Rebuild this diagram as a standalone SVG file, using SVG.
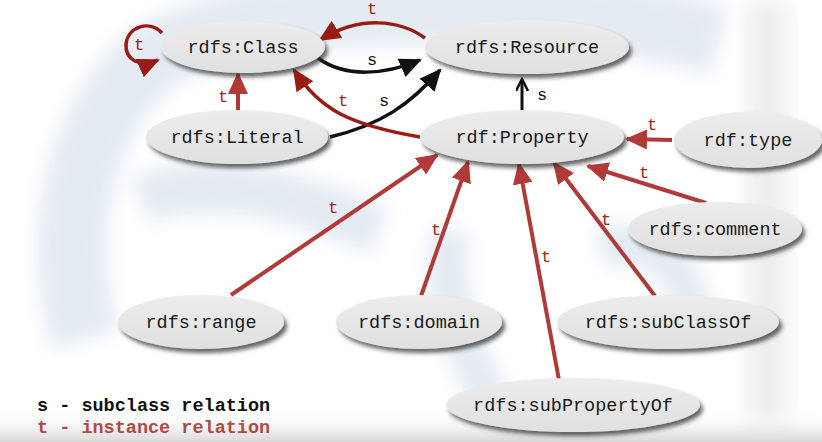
<svg xmlns="http://www.w3.org/2000/svg" width="822" height="442" viewBox="0 0 822 442">
<defs>
  <filter id="sh" x="-20%" y="-30%" width="150%" height="180%">
    <feDropShadow dx="3" dy="4" stdDeviation="2" flood-color="#333" flood-opacity="0.75"/>
  </filter>
  <filter id="blur" x="-20%" y="-20%" width="140%" height="140%">
    <feGaussianBlur stdDeviation="10"/>
  </filter>
  <linearGradient id="ng" x1="0" y1="0" x2="0" y2="1">
    <stop offset="0" stop-color="#ededed"/>
    <stop offset="1" stop-color="#e0e0e0"/>
  </linearGradient>
  <linearGradient id="bot" x1="0" y1="0" x2="0" y2="1">
    <stop offset="0" stop-color="#ffffff" stop-opacity="0"/>
    <stop offset="1" stop-color="#d8d8d8"/>
  </linearGradient>
  <marker id="ar" markerUnits="userSpaceOnUse" markerWidth="24" markerHeight="22" refX="20" refY="10" orient="auto">
    <path d="M0,0 L22,10 L0,20 Z" fill="#b23a36"/>
  </marker>
  <marker id="ad" markerUnits="userSpaceOnUse" markerWidth="24" markerHeight="22" refX="20" refY="10" orient="auto">
    <path d="M0,0 L22,10 L0,20 Z" fill="#9a1a14"/>
  </marker>
  <marker id="ab" markerUnits="userSpaceOnUse" markerWidth="24" markerHeight="22" refX="20" refY="10" orient="auto">
    <path d="M0,0 L22,10 L0,20 Z" fill="#111"/>
  </marker>
  <marker id="abs" markerUnits="userSpaceOnUse" markerWidth="14" markerHeight="14" refX="11" refY="6" orient="auto">
    <path d="M0,0 L12,6 L0,12" fill="none" stroke="#111" stroke-width="2.5"/>
  </marker>
  <style>
    .n ellipse{fill:url(#ng);filter:url(#sh);}
    .n text{font-family:"Liberation Mono","Courier New",monospace;font-size:18.5px;fill:#1a1a1a;text-anchor:middle;}
    .er{fill:none;stroke:#b23a36;stroke-width:4;marker-end:url(#ar);}
    .ed{fill:none;stroke:#9a1a14;stroke-width:3.5;marker-end:url(#ad);}
    .eb{fill:none;stroke:#111;stroke-width:3.5;marker-end:url(#ab);}
    .lt{font-family:"Liberation Mono","Courier New",monospace;font-size:17px;fill:#9e2a22;text-anchor:middle;}
    .ls{font-family:"Liberation Mono","Courier New",monospace;font-size:17px;fill:#111;text-anchor:middle;}
    .leg{font-family:"Liberation Mono","Courier New",monospace;font-size:18.5px;font-weight:bold;}
  </style>
</defs>

<g id="background">
  <rect width="822" height="442" fill="#ffffff"/>
  <g filter="url(#blur)" fill="none" stroke="#e4ebf3">
    <path d="M85,340 C55,230 80,120 150,60 C260,-10 560,0 720,40" stroke-width="70"/>
    <path d="M140,200 C220,170 300,200 380,230" stroke-width="50"/>
    <path d="M450,230 C440,300 470,380 520,440" stroke-width="40"/>
    <path d="M600,250 C660,230 700,280 690,340" stroke-width="40"/>
  </g>
  <rect x="745" y="0" width="44" height="425" fill="#efefef" filter="url(#blur)"/>
  <rect x="0" y="408" width="822" height="34" fill="url(#bot)"/>
</g>

<g id="connectors">
  <!-- Class self loop -->
  <path class="ed" d="M162,33 C150,20 128,26 126,44 C125,60 140,68 158,60"/>
  <text class="lt" x="139" y="50">t</text>
  <!-- Resource -> Class -->
  <path class="ed" d="M425,38 C400,20 360,15 320,40"/>
  <text class="lt" x="372" y="14">t</text>
  <!-- Class -> Resource -->
  <path class="eb" d="M318,58 C345,78 385,75 420,60"/>
  <text class="ls" x="372" y="65">s</text>
  <!-- Literal -> Resource -->
  <path class="eb" d="M330,137 C380,125 410,105 440,70"/>
  <text class="ls" x="384" y="106">s</text>
  <!-- Property -> Class -->
  <path class="ed" d="M420,137 C350,125 320,110 294,70"/>
  <text class="lt" x="343" y="106">t</text>
  <!-- Literal -> Class -->
  <path class="er" d="M238,112 L238,74"/>
  <text class="lt" x="223" y="102">t</text>
  <!-- Property -> Resource -->
  <path d="M522,112 L522,80" fill="none" stroke="#111" stroke-width="3" marker-end="url(#abs)"/>
  <text class="ls" x="542" y="100">s</text>
  <!-- type -> Property -->
  <path class="er" d="M672,140 L627,139"/>
  <text class="lt" x="652" y="130">t</text>
  <!-- comment -> Property -->
  <path class="er" d="M706,203 L588,166"/>
  <text class="lt" x="644" y="178">t</text>
  <!-- subClassOf -> Property -->
  <path class="er" d="M655,296 L554,163"/>
  <text class="lt" x="606" y="225">t</text>
  <!-- subPropertyOf -> Property -->
  <path class="er" d="M559,380 L519,164"/>
  <text class="lt" x="546" y="262">t</text>
  <!-- domain -> Property -->
  <path class="er" d="M421,296 L468,162"/>
  <text class="lt" x="436" y="235">t</text>
  <!-- range -> Property -->
  <path class="er" d="M231,295 L437,155"/>
  <text class="lt" x="333" y="213">t</text>
</g>

<g id="rdfs-class" class="n"><ellipse cx="243" cy="47" rx="82" ry="26"/><text x="243" y="53">rdfs:Class</text></g>
<g id="rdfs-resource" class="n"><ellipse cx="527" cy="47" rx="102" ry="27"/><text x="527" y="53">rdfs:Resource</text></g>
<g id="rdfs-literal" class="n"><ellipse cx="237" cy="137" rx="91" ry="27"/><text x="237" y="143">rdfs:Literal</text></g>
<g id="rdf-property" class="n"><ellipse cx="522" cy="137" rx="102" ry="27"/><text x="522" y="143">rdf:Property</text></g>
<g id="rdf-type" class="n"><ellipse cx="748" cy="140" rx="74" ry="28"/><text x="748" y="146">rdf:type</text></g>
<g id="rdfs-comment" class="n"><ellipse cx="715" cy="229" rx="87" ry="27"/><text x="715" y="235">rdfs:comment</text></g>
<g id="rdfs-range" class="n"><ellipse cx="201" cy="322" rx="83" ry="27"/><text x="201" y="328">rdfs:range</text></g>
<g id="rdfs-domain" class="n"><ellipse cx="419" cy="322" rx="83" ry="27"/><text x="419" y="328">rdfs:domain</text></g>
<g id="rdfs-subclassof" class="n"><ellipse cx="668" cy="322" rx="111" ry="27"/><text x="668" y="328">rdfs:subClassOf</text></g>
<g id="rdfs-subpropertyof" class="n"><ellipse cx="573" cy="405" rx="127" ry="27"/><text x="573" y="411">rdfs:subPropertyOf</text></g>

<g id="legend">
  <text class="leg" x="37" y="411" fill="#111">s - subclass relation</text>
  <text class="leg" x="37" y="433" fill="#b34a42">t - instance relation</text>
</g>
</svg>
